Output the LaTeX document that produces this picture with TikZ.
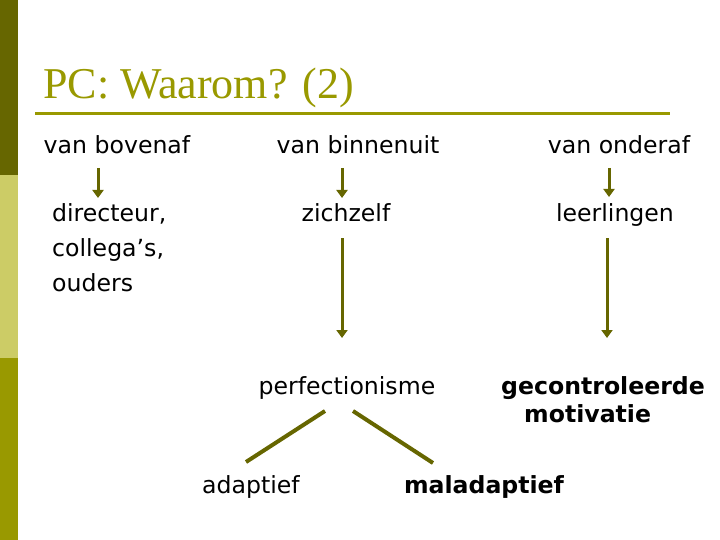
\documentclass[tikz,border=0pt]{standalone}
\usepackage{fontspec}
\setmainfont{DejaVu Sans}
\newfontfamily\titlefont{Liberation Serif}
\usetikzlibrary{positioning, arrows.meta}
\definecolor{oliveDark}{RGB}{102, 102, 0}
\definecolor{oliveLight}{RGB}{204, 204, 102}
\definecolor{oliveMid}{RGB}{153, 153, 0}

\begin{document}
\begin{tikzpicture}[
    x=1pt, y=-1pt,
    txt/.style={inner sep=0pt, font=\fontsize{23.6}{35}\selectfont, anchor=base},
    arr/.style={oliveDark, line width=3pt,
                -{Triangle[width=11pt, length=8pt]}},
    branch/.style={oliveDark, line width=4pt},
  ]
    \useasboundingbox (0,0) rectangle (720,540);
    % side bar
    \fill[oliveDark] (0,0) rectangle (18,175);
    \fill[oliveLight] (0,175) rectangle (18,358);
    \fill[oliveMid] (0,358) rectangle (18,540);

    % title
    \node[inner sep=0pt, anchor=base west, text=oliveMid,
          font=\titlefont\fontsize{44}{50}\selectfont] (TITLE) at (43,99)
      {PC: Waarom? (2)};
    \draw[oliveMid, line width=3pt] (35,114) -- (670,114);

    % top row
    \node[txt] (VB) at (117,154) {van bovenaf};
    \node[txt] (VBI) at (358,154) {van binnenuit};
    \node[txt] (VO) at (619,154) {van onderaf};

    % (base of a multi-line node = its last line)
    \node[txt, anchor=base west, align=left] (DIR) at (52,291)
      {directeur,\\collega’s,\\ouders};
    \node[txt] (ZICH) at (346,222) {zichzelf};
    \node[txt] (LEER) at (615,222) {leerlingen};

    \node[txt] (PERF) at (347,394) {perfectionisme};
    \node[txt, anchor=base west, align=left, font=\fontsize{23.6}{28}\selectfont\bfseries]
      (GEC) at (501,422) {gecontroleerde\\\hspace*{23pt}motivatie};

    \node[txt] (ADAP) at (251,493) {adaptief};
    \node[txt, font=\fontsize{23.6}{28}\selectfont\bfseries] (MAL) at (484,493) {maladaptief};

    % arrows
    \draw[arr] ([xshift=-19pt, yshift=-14pt]VB.base) -- ([xshift=-19pt, yshift=-44pt]VB.base);
    \draw[arr] ([xshift=-16pt, yshift=-14pt]VBI.base) -- ([xshift=-4pt, yshift=24pt]ZICH.base);
    \draw[arr] ([xshift=-10pt, yshift=-14pt]VO.base) -- ([xshift=-6pt, yshift=25pt]LEER.base);
    \draw[arr] ([xshift=-4pt, yshift=-16pt]ZICH.base) -- ([xshift=-5pt, yshift=56pt]PERF.base);
    \draw[arr] ([xshift=-8pt, yshift=-16pt]LEER.base) -- ([xshift=106pt, yshift=84pt]GEC.base west);

    % branches
    \draw[branch] ([xshift=-5pt, yshift=31pt]ADAP.base) -- ([xshift=-22pt, yshift=-17pt]PERF.base);
    \draw[branch] ([xshift=6pt, yshift=-17pt]PERF.base) -- ([xshift=-51pt, yshift=30pt]MAL.base);
  \end{tikzpicture}
\end{document}
